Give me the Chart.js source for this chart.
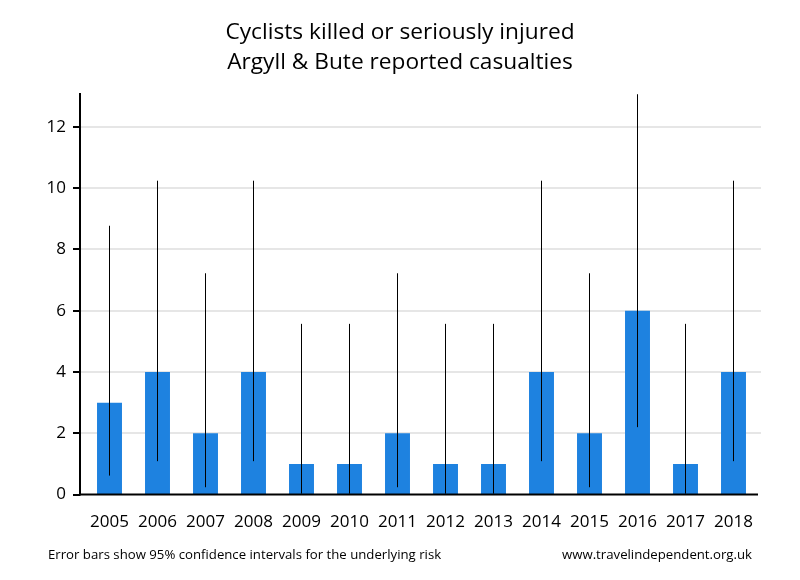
<!DOCTYPE html>
<html>
<head>
<meta charset="utf-8">
<script src="https://cdn.jsdelivr.net/npm/chart.js@4/dist/chart.umd.min.js"></script>
<style>
  html, body { margin: 0; padding: 0; background: #fff; }
</style>
</head>
<body>
<canvas id="chart" width="800" height="580"></canvas>
<script>
// Data
const years = ["2005", "2006", "2007", "2008", "2009", "2010", "2011", "2012", "2013", "2014", "2015", "2016", "2017", "2018"];
const casualties = [3, 4, 2, 4, 1, 1, 2, 1, 1, 4, 2, 6, 1, 4];
const ciLower = [0.62, 1.09, 0.24, 1.09, 0.03, 0.03, 0.24, 0.03, 0.03, 1.09, 0.24, 2.2, 0.03, 1.09];
const ciUpper = [8.77, 10.24, 7.22, 10.24, 5.57, 5.57, 7.22, 5.57, 5.57, 10.24, 7.22, 13.06, 5.57, 10.24];
const yTicks = [0, 2, 4, 6, 8, 10, 12];

const titleLines = ["Cyclists killed or seriously injured", "Argyll & Bute reported casualties"];
const noteLeft = "Error bars show 95% confidence intervals for the underlying risk";
const noteRight = "www.travelindependent.org.uk";

Chart.defaults.font.family = "'Open Sans', sans-serif";
Chart.defaults.color = "#000";

function line(ctx, x1, y1, x2, y2) {
  ctx.beginPath();
  ctx.moveTo(x1, y1);
  ctx.lineTo(x2, y2);
  ctx.stroke();
}

// gridlines, axis lines, error bars and footnotes
const decorations = {
  id: "decorations",
  beforeDatasetsDraw(chart) {
    const { ctx, chartArea, scales } = chart;
    const axisX = chartArea.left - 5.5;
    ctx.save();
    ctx.lineWidth = 2;
    scales.y.ticks.forEach((t) => {
      const py = Math.round(scales.y.getPixelForValue(t.value));
      if (t.value > 0) {
        ctx.strokeStyle = "#e6e6e6";
        line(ctx, axisX, py, chartArea.right + 3.5, py);
      }
      ctx.strokeStyle = "#000";
      line(ctx, axisX - 7, py, axisX, py);
    });
    ctx.restore();
  },
  afterDatasetsDraw(chart) {
    const { ctx, chartArea, scales } = chart;
    const axisX = chartArea.left - 5.5;
    ctx.save();
    // error bars
    ctx.strokeStyle = "#000";
    ctx.lineWidth = 1;
    casualties.forEach((v, i) => {
      const px = Math.floor(scales.x.getPixelForValue(i)) + 0.5;
      line(ctx, px, scales.y.getPixelForValue(ciLower[i]), px, scales.y.getPixelForValue(ciUpper[i]));
    });
    // axes
    ctx.lineWidth = 2;
    line(ctx, axisX, chartArea.top, axisX, chartArea.bottom + 1);
    line(ctx, axisX - 1, chartArea.bottom, chartArea.right + 0.5, chartArea.bottom);
    ctx.restore();
  },
  afterDraw(chart) {
    const { ctx } = chart;
    ctx.save();
    ctx.fillStyle = "#000";
    ctx.font = "13.2px 'Open Sans', sans-serif";
    ctx.textBaseline = "alphabetic";
    ctx.textAlign = "left";
    ctx.fillText(noteLeft, 48, 559);
    ctx.textAlign = "right";
    ctx.fillText(noteRight, 752, 559);
    ctx.restore();
  }
};

new Chart(document.getElementById("chart"), {
  type: "bar",
  data: {
    labels: years,
    datasets: [
      {
        data: casualties,
        backgroundColor: "#1e82e0",
        borderWidth: 0,
        barPercentage: 0.52,
        categoryPercentage: 1
      }
    ]
  },
  options: {
    responsive: false,
    animation: false,
    layout: {
      padding: { left: 0, right: 0, top: 0, bottom: 31 }
    },
    plugins: {
      legend: { display: false },
      tooltip: { enabled: false },
      title: {
        display: true,
        text: titleLines,
        color: "#000",
        font: { size: 22.7, weight: "normal", lineHeight: 1.322 },
        padding: { top: 17.5, bottom: 15.5 }
      }
    },
    scales: {
      x: {
        grid: { display: false, drawTicks: false },
        border: { display: false },
        ticks: { font: { size: 17 }, padding: 17, color: "#000" }
      },
      y: {
        min: 0,
        max: 13.1,
        afterBuildTicks: (scale) => {
          scale.ticks = yTicks.map((v) => ({ value: v }));
        },
        afterFit: (scale) => {
          scale.width = 85.5;
        },
        grid: { display: false, drawTicks: false },
        border: { display: false },
        ticks: { font: { size: 17 }, padding: 19.5, color: "#000" }
      },
      // empty right margin so the title stays centred on the page
      yRight: {
        position: "right",
        min: 0,
        max: 13.1,
        grid: { display: false, drawTicks: false },
        border: { display: false },
        ticks: { display: false },
        afterFit: (scale) => {
          scale.width = 42.5;
        }
      }
    }
  },
  plugins: [decorations]
});
</script>
</body>
</html>
